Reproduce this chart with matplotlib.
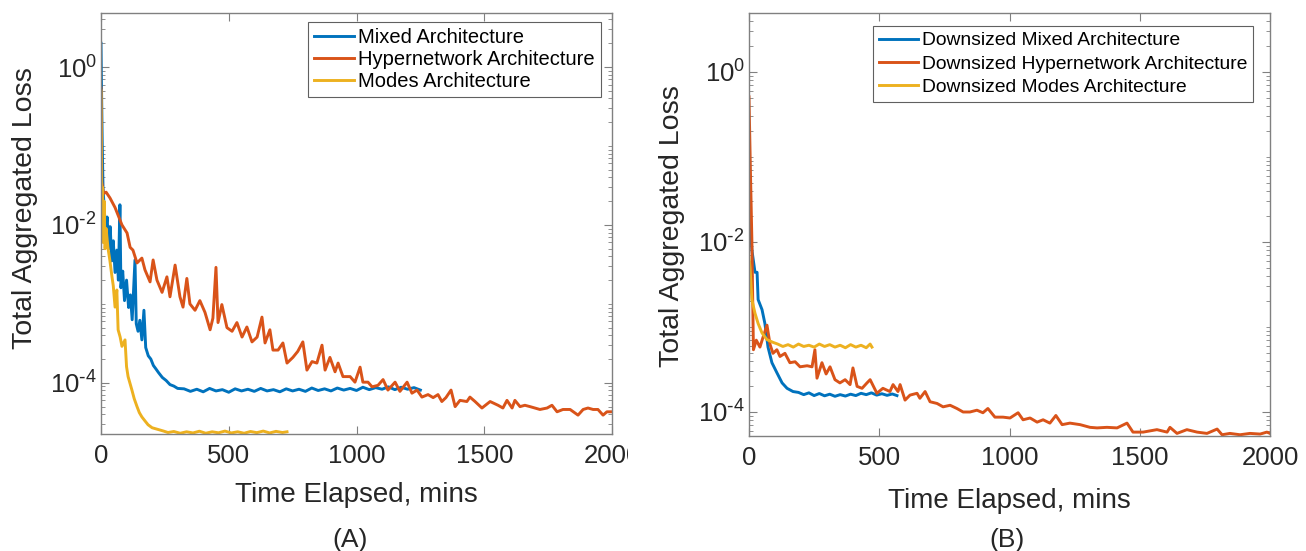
import matplotlib
matplotlib.use('Agg')
import matplotlib.pyplot as plt
import matplotlib.ticker as mticker
from matplotlib.transforms import Bbox

plt.rcParams['font.family'] = ['Liberation Sans', 'DejaVu Sans']
plt.rcParams['mathtext.default'] = 'regular'
plt.rcParams['axes.unicode_minus'] = False

# ---- panel A data (time in mins, loss) ----
mixed_t = [0, 2, 5, 8, 12, 18, 24, 30, 36, 42, 48, 55, 62, 68, 74, 78, 85, 92, 100, 108,
           115, 122, 133, 138, 145, 152, 160, 168, 175, 185, 195, 205, 215, 225, 240, 255,
           270, 285, 300, 325, 350, 375, 400, 425, 450, 475, 500, 525, 550, 575, 600, 625,
           650, 675, 700, 725, 750, 775, 800, 825, 850, 875, 900, 925, 950, 975, 1000,
           1025, 1050, 1075, 1100, 1125, 1150, 1175, 1200, 1225, 1250]
mixed_loss = [2.0, 0.55, 0.1, 0.028, 0.018, 0.008, 0.0126, 0.005, 0.0095, 0.0035, 0.0063,
              0.0025, 0.0048, 0.002, 0.018, 0.0016, 0.0026, 0.0011, 0.002, 0.0009, 0.0013,
              0.00063, 0.0036, 0.00056, 0.00045, 0.00062, 0.00035, 0.00083, 0.00028, 0.00022,
              0.0002, 0.000166, 0.00015, 0.000135, 0.000117, 0.000107, 9.5e-5, 9.1e-5, 8.5e-5,
              8.4e-5, 7.8e-5, 8.3e-5, 7.7e-5, 8.5e-5, 7.9e-5, 8.2e-5, 7.6e-5, 8.4e-5, 7.9e-5,
              8.3e-5, 7.8e-5, 8.5e-5, 7.9e-5, 8.2e-5, 7.7e-5, 8.4e-5, 7.9e-5, 8.3e-5, 7.8e-5,
              8.6e-5, 8.0e-5, 8.4e-5, 7.9e-5, 8.6e-5, 8.1e-5, 8.5e-5, 8.0e-5, 8.8e-5, 8.2e-5,
              8.7e-5, 8.3e-5, 8.9e-5, 8.2e-5, 8.8e-5, 8.3e-5, 8.7e-5, 8.1e-5]

hyper_t = [0, 3, 10, 20, 35, 55, 82, 102, 114, 125, 141, 160, 172, 192, 204, 219, 239, 258,
           270, 290, 309, 321, 336, 348, 368, 387, 407, 427, 438, 450, 458, 473, 493, 513,
           532, 552, 571, 591, 611, 630, 642, 661, 673, 693, 712, 728, 751, 770, 790, 806,
           826, 845, 865, 877, 896, 916, 928, 947, 975, 994, 1014, 1025, 1045, 1061, 1084,
           1104, 1123, 1151, 1170, 1198, 1217, 1237, 1256, 1280, 1300, 1319, 1334, 1350,
           1370, 1386, 1405, 1432, 1444, 1464, 1491, 1523, 1554, 1573, 1589, 1609, 1620,
           1640, 1659, 1679, 1718, 1746, 1765, 1785, 1808, 1836, 1867, 1887, 1906, 1926,
           1945, 1965, 1980, 2000]
hyper_loss = [0.54, 0.035, 0.025, 0.026, 0.022, 0.0166, 0.01, 0.0079, 0.0052, 0.0048, 0.0033,
              0.0038, 0.0027, 0.0019, 0.0036, 0.002, 0.0014, 0.0022, 0.00123, 0.0031, 0.00123,
              0.00091, 0.0021, 0.001, 0.00083, 0.0011, 0.00078, 0.00047, 0.00066, 0.0029,
              0.00058, 0.00098, 0.0005, 0.00045, 0.00058, 0.00038, 0.00051, 0.00033, 0.00038,
              0.00068, 0.00032, 0.00047, 0.00026, 0.00026, 0.00032, 0.000178, 0.00021, 0.00025,
              0.00033, 0.000145, 0.000186, 0.000178, 0.0003, 0.000145, 0.00021, 0.000138,
              0.000178, 0.00012, 0.00012, 0.000102, 0.000158, 0.000102, 0.000102, 8.9e-5,
              9.3e-5, 0.00011, 8.1e-5, 0.000102, 7.8e-5, 0.000102, 7.4e-5, 8.1e-5, 6.6e-5,
              7.1e-5, 6.5e-5, 7.1e-5, 5.8e-5, 6.5e-5, 8.1e-5, 5.0e-5, 6.0e-5, 5.8e-5, 6.6e-5,
              5.8e-5, 4.8e-5, 5.8e-5, 5.2e-5, 4.8e-5, 6.0e-5, 4.8e-5, 6.0e-5, 5.0e-5, 5.2e-5,
              5.0e-5, 4.6e-5, 4.8e-5, 5.2e-5, 4.3e-5, 4.6e-5, 4.6e-5, 3.9e-5, 4.6e-5, 4.8e-5,
              4.6e-5, 4.6e-5, 3.9e-5, 4.3e-5, 4.3e-5]

modes_t = [0, 2, 4, 6, 8, 12, 16, 20, 27, 35, 43, 48, 55, 62, 67, 75, 82, 94, 100, 106, 121,
           130, 141, 150, 160, 172, 184, 200, 223, 245, 262, 285, 310, 335, 360, 385, 410,
           435, 460, 485, 510, 535, 560, 585, 610, 635, 660, 685, 710, 728]
modes_loss = [0.5, 0.037, 0.012, 0.03, 0.006, 0.02, 0.005, 0.009, 0.0052, 0.0035, 0.0022,
              0.0017, 0.00091, 0.0015, 0.00047, 0.00038, 0.00029, 0.00035, 0.00016, 0.00012,
              8.1e-5, 6.3e-5, 5.0e-5, 4.2e-5, 3.7e-5, 3.3e-5, 2.95e-5, 2.7e-5, 2.57e-5,
              2.45e-5, 2.35e-5, 2.42e-5, 2.3e-5, 2.4e-5, 2.32e-5, 2.44e-5, 2.3e-5, 2.4e-5,
              2.33e-5, 2.45e-5, 2.32e-5, 2.4e-5, 2.3e-5, 2.42e-5, 2.34e-5, 2.45e-5, 2.32e-5,
              2.43e-5, 2.35e-5, 2.4e-5]

# ---- panel B data (downsized) ----
ds_mixed_t = [0, 11, 23, 31, 35, 50, 61, 73, 88, 107, 127, 146, 169, 190, 210, 230, 250, 270,
              290, 310, 330, 350, 370, 390, 410, 430, 450, 470, 490, 510, 530, 550, 568]
ds_mixed_loss = [0.027, 0.0081, 0.0044, 0.0044, 0.0021, 0.0016, 0.0011, 0.00058, 0.00038,
                 0.00029, 0.00022, 0.00019, 0.000174, 1.7e-4, 1.6e-4, 1.68e-4, 1.56e-4,
                 1.65e-4, 1.55e-4, 1.62e-4, 1.53e-4, 1.6e-4, 1.54e-4, 1.62e-4, 1.56e-4,
                 1.66e-4, 1.6e-4, 1.68e-4, 1.58e-4, 1.64e-4, 1.57e-4, 1.63e-4, 1.56e-4]

ds_hyper_t = [0, 5, 11, 17, 28, 42, 54, 69, 81, 92, 107, 119, 138, 157, 177, 196, 223, 242,
              253, 261, 280, 296, 311, 330, 349, 369, 388, 399, 415, 434, 453, 465, 491, 514,
              541, 553, 572, 580, 599, 618, 645, 656, 676, 695, 722, 745, 772, 798, 822, 848,
              875, 898, 917, 944, 975, 1002, 1033, 1052, 1079, 1106, 1129, 1155, 1178, 1202,
              1232, 1271, 1309, 1336, 1374, 1413, 1451, 1474, 1513, 1566, 1605, 1616, 1643,
              1681, 1720, 1758, 1797, 1816, 1846, 1885, 1923, 1962, 1988, 2000]
ds_hyper_loss = [0.51, 0.08, 0.0105, 0.00054, 0.0007, 0.00058, 0.00076, 0.00105, 0.00062,
                 0.00049, 0.00054, 0.00045, 0.00049, 0.00038, 0.00039, 0.00034, 0.00035,
                 0.00034, 0.00054, 0.00025, 0.00038, 0.00028, 0.00034, 0.00024, 0.00022,
                 0.00024, 0.00021, 0.00033, 0.0002, 0.00019, 0.00022, 0.00024, 0.000166,
                 0.00019, 0.000174, 0.00021, 0.000174, 0.00021, 0.000138, 0.000158, 0.000166,
                 0.000145, 0.000174, 0.000132, 0.000126, 0.000115, 0.00012, 0.00011, 0.0001,
                 0.0001, 0.000105, 9.8e-5, 0.00011, 8.7e-5, 8.7e-5, 8.5e-5, 9.8e-5, 8.1e-5,
                 8.5e-5, 7.6e-5, 8.1e-5, 7.4e-5, 9.1e-5, 7.1e-5, 7.4e-5, 7.1e-5, 6.6e-5,
                 6.5e-5, 6.6e-5, 6.5e-5, 7.4e-5, 5.8e-5, 5.8e-5, 6.2e-5, 5.8e-5, 6.6e-5,
                 5.6e-5, 6.2e-5, 5.8e-5, 5.6e-5, 6.3e-5, 5.4e-5, 5.6e-5, 5.4e-5, 5.6e-5,
                 5.5e-5, 5.8e-5, 5.6e-5]

ds_modes_t = [0, 4, 11, 23, 35, 50, 69, 92, 110, 130, 150, 170, 190, 210, 230, 250, 270, 290,
              310, 330, 350, 370, 390, 410, 430, 450, 465, 472]
ds_modes_loss = [0.0066, 0.005, 0.0021, 0.00145, 0.0011, 0.00085, 0.00071, 0.00066, 6.3e-4,
                 5.9e-4, 6.2e-4, 5.8e-4, 6.3e-4, 5.9e-4, 6.1e-4, 5.8e-4, 6.3e-4, 5.9e-4,
                 6.2e-4, 5.8e-4, 6.1e-4, 5.7e-4, 6.2e-4, 5.8e-4, 6.1e-4, 5.7e-4, 6.3e-4, 5.8e-4]

labels_a = ['Mixed Architecture', 'Hypernetwork Architecture', 'Modes Architecture']
labels_b = ['Downsized Mixed Architecture', 'Downsized Hypernetwork Architecture',
            'Downsized Modes Architecture']
colors = ['#0072BD', '#D95319', '#EDB120']
xticks = [0, 500, 1000, 1500, 2000]
yticks = [1e-4, 1e-2, 1e0]
ytick_labels = [r'$10^{\text{-}4}$', r'$10^{\text{-}2}$', r'$10^{0}$']

W, H = 1306, 551
fig = plt.figure(figsize=(W / 100, H / 100), dpi=100)
ax_a = fig.add_axes([101 / W, (H - 434) / H, 511 / W, 421 / H])
ax_b = fig.add_axes([749 / W, (H - 436) / H, 521 / W, 423 / H])

series_a = [(mixed_t, mixed_loss), (hyper_t, hyper_loss), (modes_t, modes_loss)]
series_b = [(ds_mixed_t, ds_mixed_loss), (ds_hyper_t, ds_hyper_loss), (ds_modes_t, ds_modes_loss)]

for ax, series, labels in [(ax_a, series_a, labels_a), (ax_b, series_b, labels_b)]:
    for (t, loss), lab, c in zip(series, labels, colors):
        ax.plot(t, loss, color=c, lw=2.1, label=lab)
    ax.set_yscale('log')
    ax.set_xlim(0, 2000)
    ax.set_xticks(xticks)
    ax.set_xticklabels([str(v) for v in xticks])
    ax.yaxis.set_major_locator(mticker.FixedLocator(yticks))
    ax.yaxis.set_major_formatter(mticker.FixedFormatter(ytick_labels))
    ax.yaxis.set_minor_locator(mticker.LogLocator(base=10, subs=range(1, 10), numticks=30))
    ax.yaxis.set_minor_formatter(mticker.NullFormatter())
    ax.tick_params(which='both', direction='in', top=True, right=True, color='#808080',
                   labelcolor='#262626')
    ax.tick_params(which='major', length=6, width=0.8)
    ax.tick_params(which='minor', length=3, width=0.6)
    ax.tick_params(axis='x', labelsize=18.5, pad=7)
    ax.tick_params(axis='y', labelsize=18.5, pad=3)
    for s in ax.spines.values():
        s.set_color('#808080')
        s.set_linewidth(1.0)
    ax.set_xlabel('Time Elapsed, mins', fontsize=20, color='#262626')
    ax.set_ylabel('Total Aggregated Loss', fontsize=20.5, color='#262626')

ax_a.set_ylim(2.25e-5, 4.83)
ax_b.set_ylim(5.22e-5, 4.94)

ax_a.xaxis.set_label_coords(0.5, -0.114)
ax_b.xaxis.set_label_coords(0.5, -0.122)
ax_a.yaxis.set_label_coords(-0.123, 0.537)
ax_b.yaxis.set_label_coords(-0.123, 0.496)

leg_a = ax_a.legend(loc='upper right', bbox_to_anchor=(0.9785, 0.9786), borderaxespad=0,
                    fontsize=14.5, frameon=True, fancybox=False, framealpha=1,
                    edgecolor='#606060', handlelength=2.0, handletextpad=0.2,
                    labelspacing=0.15, borderpad=0.3)
leg_b = ax_b.legend(loc='upper right', bbox_to_anchor=(0.967, 0.969), borderaxespad=0,
                    fontsize=13.9, frameon=True, fancybox=False, framealpha=1,
                    edgecolor='#606060', handlelength=2.0, handletextpad=0.2,
                    labelspacing=0.3, borderpad=0.3)
for leg in (leg_a, leg_b):
    leg.get_frame().set_linewidth(0.8)

# panel A image was cut on its right side: clip its last tick label
clip_a = Bbox.from_extents(0, 0, 628, H)
for lab in ax_a.get_xticklabels():
    lab.set_clip_box(clip_a)
    lab.set_clip_on(True)

fig.text(350 / W, 1 - 540 / H, '(A)', fontsize=19, ha='center', va='center', color='#262626')
fig.text(1007 / W, 1 - 540 / H, '(B)', fontsize=19, ha='center', va='center', color='#262626')

fig.savefig('out.png', dpi=100)
plt.close(fig)
